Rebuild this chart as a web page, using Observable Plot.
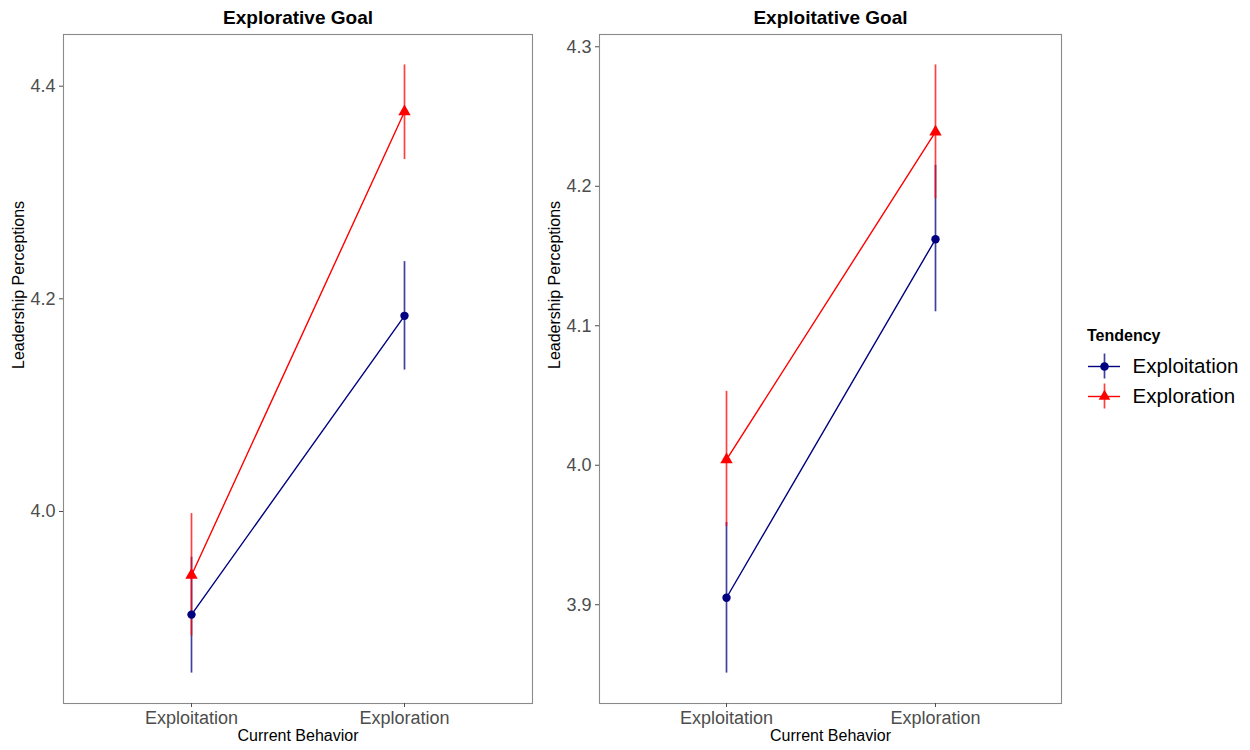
<!DOCTYPE html>
<html>
<head>
<meta charset="utf-8">
<script src="https://cdn.jsdelivr.net/npm/d3@7"></script>
<script src="https://cdn.jsdelivr.net/npm/@observablehq/plot@0.6"></script>
<style>
  html, body { margin: 0; padding: 0; background: #fff; }
  #chart { position: relative; width: 1250px; height: 750px; font-family: "Liberation Sans", Arial, sans-serif; }
  #chart svg { position: absolute; overflow: visible; }
  .legend-title { position: absolute; left: 1087px; top: 326px; font-size: 16px; font-weight: bold; line-height: 20px; color: #000; }
</style>
</head>
<body>
<div id="chart"></div>
<script>
// Categories
const behaviors = ["Exploitation", "Exploration"];
const tendencies = ["Exploitation", "Exploration"];
const goals = ["Explorative Goal", "Exploitative Goal"];

// Explorative goal: means and interval bounds, by current behavior
const explorativeExploitationMean = [3.903, 4.184];
const explorativeExploitationLow  = [3.848, 4.133];
const explorativeExploitationHigh = [3.957, 4.235];
const explorativeExplorationMean  = [3.940, 4.376];
const explorativeExplorationLow   = [3.883, 4.331];
const explorativeExplorationHigh  = [3.998, 4.420];

// Exploitative goal
const exploitativeExploitationMean = [3.905, 4.162];
const exploitativeExploitationLow  = [3.851, 4.110];
const exploitativeExploitationHigh = [3.959, 4.215];
const exploitativeExplorationMean  = [4.004, 4.239];
const exploitativeExplorationLow   = [3.956, 4.191];
const exploitativeExplorationHigh  = [4.053, 4.287];

// Y-axis tick values per panel
const explorativeTicks = [4.0, 4.2, 4.4];
const exploitativeTicks = [3.9, 4.0, 4.1, 4.2, 4.3];

const tendencyColors = ["#000080", "#FF0000"];
const tendencySymbols = ["circle", "triangle"];

function buildRows(series) {
  const rows = [];
  series.forEach(([tendency, mean, low, high]) => {
    behaviors.forEach((behavior, i) => {
      rows.push({ behavior, tendency, mean: mean[i], low: low[i], high: high[i] });
    });
  });
  return rows;
}

const explorativeRows = buildRows([
  [tendencies[0], explorativeExploitationMean, explorativeExploitationLow, explorativeExploitationHigh],
  [tendencies[1], explorativeExplorationMean, explorativeExplorationLow, explorativeExplorationHigh]
]);
const exploitativeRows = buildRows([
  [tendencies[0], exploitativeExploitationMean, exploitativeExploitationLow, exploitativeExploitationHigh],
  [tendencies[1], exploitativeExplorationMean, exploitativeExplorationLow, exploitativeExplorationHigh]
]);

const chart = document.getElementById("chart");

function panel(title, rows, yTicks, left, width, marginLeft, marginRight) {
  // ggplot-style 5% expansion of the data range
  const lo = d3.min(rows, d => d.low), hi = d3.max(rows, d => d.high);
  const pad = (hi - lo) * 0.05;
  const svg = Plot.plot({
    width,
    height: 750,
    marginLeft,
    marginRight,
    marginTop: 34,
    marginBottom: 47,
    style: { fontFamily: "'Liberation Sans', Arial, sans-serif", background: "transparent" },
    x: { type: "point", domain: behaviors, padding: 0.6 },
    y: { domain: [lo - pad, hi + pad] },
    color: { domain: tendencies, range: tendencyColors },
    symbol: { domain: tendencies, range: tendencySymbols },
    marks: [
      Plot.frame({ stroke: "#8a8a8a", strokeWidth: 1.1 }),
      Plot.axisY({ ticks: yTicks, tickFormat: d3.format(".1f"), tickSize: 4, tickPadding: 4,
                   fontSize: 18, fill: "#4D4D4D", stroke: "#4D4D4D", label: null }),
      Plot.axisX({ tickSize: 4, tickPadding: 4, fontSize: 18, fill: "#4D4D4D", stroke: "#4D4D4D", label: null }),
      Plot.ruleX(rows, { x: "behavior", y1: "low", y2: "high", stroke: "tendency", strokeWidth: 1.7, strokeOpacity: 0.75 }),
      Plot.line(rows, { x: "behavior", y: "mean", z: "tendency", stroke: "tendency", strokeWidth: 1.4 }),
      Plot.dot(rows.filter(d => d.tendency === tendencies[0]), { x: "behavior", y: "mean", fill: "tendency", symbol: "tendency", r: 4.2 }),
      Plot.dot(rows.filter(d => d.tendency === tendencies[1]), { x: "behavior", y: "mean", fill: "tendency", symbol: "tendency", r: 4.6 }),
      Plot.text([title], { frameAnchor: "top", dy: -17, text: d => d, fontSize: 19, fontWeight: "bold", fill: "#000", lineAnchor: "middle" }),
      Plot.text(["Leadership Perceptions"], { frameAnchor: "left", dx: -45, rotate: -90, text: d => d, fontSize: 16, fill: "#000" }),
      Plot.text(["Current Behavior"], { frameAnchor: "bottom", dy: 37, text: d => d, fontSize: 16, fill: "#000" })
    ]
  });
  svg.style.left = left + "px";
  svg.style.top = "0px";
  chart.appendChild(svg);
}

panel(goals[0], explorativeRows, explorativeTicks, 0, 545, 63, 13);
panel(goals[1], exploitativeRows, exploitativeTicks, 545, 530, 54, 14);

// Legend
const legendTitle = document.createElement("div");
legendTitle.className = "legend-title";
legendTitle.textContent = "Tendency";
chart.appendChild(legendTitle);

const legend = Plot.plot({
  width: 170,
  height: 60,
  margin: 0,
  style: { fontFamily: "'Liberation Sans', Arial, sans-serif", background: "transparent" },
  x: { domain: [0, 170], range: [0, 170], axis: null },
  y: { type: "band", domain: tendencies, padding: 0, axis: null },
  color: { domain: tendencies, range: tendencyColors },
  symbol: { domain: tendencies, range: tendencySymbols },
  marks: [
    Plot.tickX(tendencies, { x: 24, y: d => d, stroke: d => d, strokeWidth: 1.7, strokeOpacity: 0.75, insetTop: 2.5, insetBottom: 2.5 }),
    Plot.ruleY(tendencies, { y: d => d, x1: 8, x2: 40, stroke: d => d, strokeWidth: 1.4 }),
    Plot.dot(tendencies, { x: 24, y: d => d, fill: d => d, symbol: d => d, r: 4.3 }),
    Plot.text(tendencies, { x: 52, y: d => d, text: d => d, textAnchor: "start", fontSize: 20.5, fill: "#000" })
  ]
});
legend.style.left = "1080px";
legend.style.top = "351px";
chart.appendChild(legend);
</script>
</body>
</html>
